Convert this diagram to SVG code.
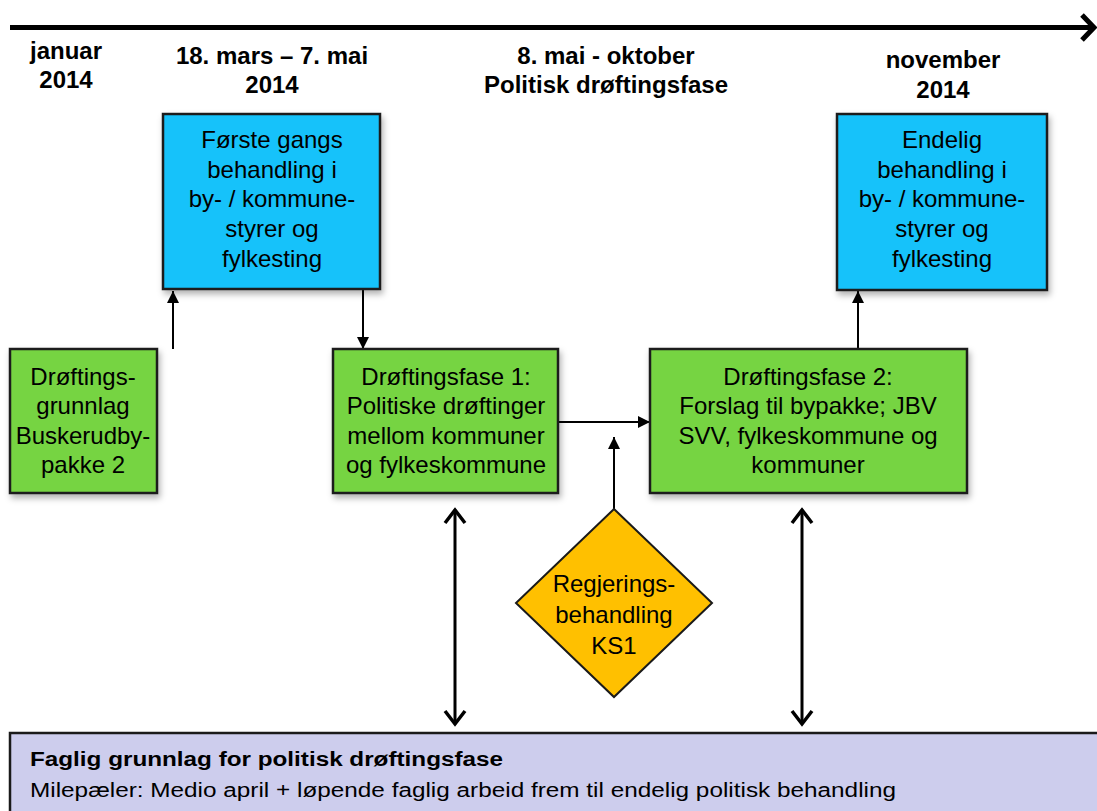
<svg xmlns="http://www.w3.org/2000/svg" width="1097" height="811" viewBox="0 0 1097 811">
<style>
text{font-family:"Liberation Sans",Arial,sans-serif;fill:#000;}
.h{font-size:24px;font-weight:bold;text-anchor:middle;}
.t{font-size:24px;text-anchor:middle;}
.box{stroke:#1a1a1a;stroke-width:2.5;}
.blue{fill:#19C2FA;}
.green{fill:#76D443;}
.conn{stroke:#000;stroke-width:2;fill:none;}
.dbl{stroke:#000;stroke-width:3;fill:none;}
</style>
<defs>
<filter id="sh" x="-10%" y="-10%" width="130%" height="130%">
<feDropShadow dx="2" dy="4" stdDeviation="3" flood-color="#000" flood-opacity="0.3"/>
</filter>
<marker id="tri" viewBox="0 0 12 12" refX="12" refY="6" markerWidth="12" markerHeight="12" markerUnits="userSpaceOnUse" orient="auto">
<path d="M0,0 L12,6 L0,12 z" fill="#000"/>
</marker>
<marker id="chev" viewBox="0 0 18 24" refX="15" refY="12" markerWidth="18" markerHeight="24" markerUnits="userSpaceOnUse" orient="auto-start-reverse">
<path d="M2,2 L15,12 L2,22" fill="none" stroke="#000" stroke-width="3.5"/>
</marker>
</defs>
<rect width="1097" height="811" fill="#fff"/>

<g id="timeline">
<line x1="10" y1="27.5" x2="1093" y2="27.5" stroke="#000" stroke-width="5"/>
<polyline points="1082,15 1094,27.5 1082,40" fill="none" stroke="#000" stroke-width="5"/>
</g>

<g id="headers">
<text class="h" x="66" y="59">januar</text>
<text class="h" x="66" y="88">2014</text>
<text class="h" x="272" y="64">18. mars – 7. mai</text>
<text class="h" x="272" y="93">2014</text>
<text class="h" x="606" y="64">8. mai - oktober</text>
<text class="h" x="606" y="93">Politisk drøftingsfase</text>
<text class="h" x="943" y="68">november</text>
<text class="h" x="943" y="98">2014</text>
</g>

<g id="connectors">
<line class="conn" x1="173" y1="349" x2="173" y2="291" marker-end="url(#tri)"/>
<line class="conn" x1="363" y1="290" x2="363" y2="349" marker-end="url(#tri)"/>
<line class="conn" x1="558" y1="422" x2="650" y2="422" marker-end="url(#tri)"/>
<line class="conn" x1="614" y1="510" x2="614" y2="437" marker-end="url(#tri)"/>
<line class="conn" x1="858" y1="349" x2="858" y2="291" marker-end="url(#tri)"/>
<line class="dbl" x1="455" y1="510" x2="455" y2="724" marker-start="url(#chev)" marker-end="url(#chev)"/>
<line class="dbl" x1="802" y1="510" x2="802" y2="724" marker-start="url(#chev)" marker-end="url(#chev)"/>
</g>

<g id="blue1">
<rect class="box blue" x="163" y="114" width="217" height="175" filter="url(#sh)"/>
<text class="t" x="272" y="148">Første gangs</text>
<text class="t" x="272" y="178">behandling i</text>
<text class="t" x="272" y="207">by- / kommune-</text>
<text class="t" x="272" y="237">styrer og</text>
<text class="t" x="272" y="267">fylkesting</text>
</g>

<g id="blue2">
<rect class="box blue" x="837" y="114" width="210" height="176" filter="url(#sh)"/>
<text class="t" x="942" y="148">Endelig</text>
<text class="t" x="942" y="178">behandling i</text>
<text class="t" x="942" y="207">by- / kommune-</text>
<text class="t" x="942" y="237">styrer og</text>
<text class="t" x="942" y="267">fylkesting</text>
</g>

<g id="green1">
<rect class="box green" x="10" y="349" width="147" height="144" filter="url(#sh)"/>
<text class="t" x="83" y="385">Drøftings-</text>
<text class="t" x="83" y="414">grunnlag</text>
<text class="t" x="83" y="444">Buskerudby-</text>
<text class="t" x="83" y="473">pakke 2</text>
</g>

<g id="green2">
<rect class="box green" x="333" y="349" width="225" height="144" filter="url(#sh)"/>
<text class="t" x="446" y="385">Drøftingsfase 1:</text>
<text class="t" x="446" y="414">Politiske drøftinger</text>
<text class="t" x="446" y="444">mellom kommuner</text>
<text class="t" x="446" y="473">og fylkeskommune</text>
</g>

<g id="green3">
<rect class="box green" x="650" y="349" width="317" height="144" filter="url(#sh)"/>
<text class="t" x="808" y="385">Drøftingsfase 2:</text>
<text class="t" x="808" y="414">Forslag til bypakke; JBV</text>
<text class="t" x="808" y="444">SVV, fylkeskommune og</text>
<text class="t" x="808" y="473">kommuner</text>
</g>

<g id="diamond">
<polygon points="614,509 712,603 614,697 516,603" fill="#FFC000" stroke="#1a1a1a" stroke-width="2"/>
<text class="t" x="614" y="592">Regjerings-</text>
<text class="t" x="614" y="623">behandling</text>
<text class="t" x="614" y="654">KS1</text>
</g>

<g id="bottom">
<rect x="10" y="733" width="1095" height="84" fill="#CDCDED" stroke="#1a1a1a" stroke-width="2.5"/>
<text x="30" y="766" style="font-size:20px;font-weight:bold" textLength="473" lengthAdjust="spacingAndGlyphs">Faglig grunnlag for politisk drøftingsfase</text>
<text x="30" y="797" style="font-size:20px" textLength="866" lengthAdjust="spacingAndGlyphs">Milepæler: Medio april + løpende faglig arbeid frem til endelig politisk behandling</text>
</g>
</svg>
